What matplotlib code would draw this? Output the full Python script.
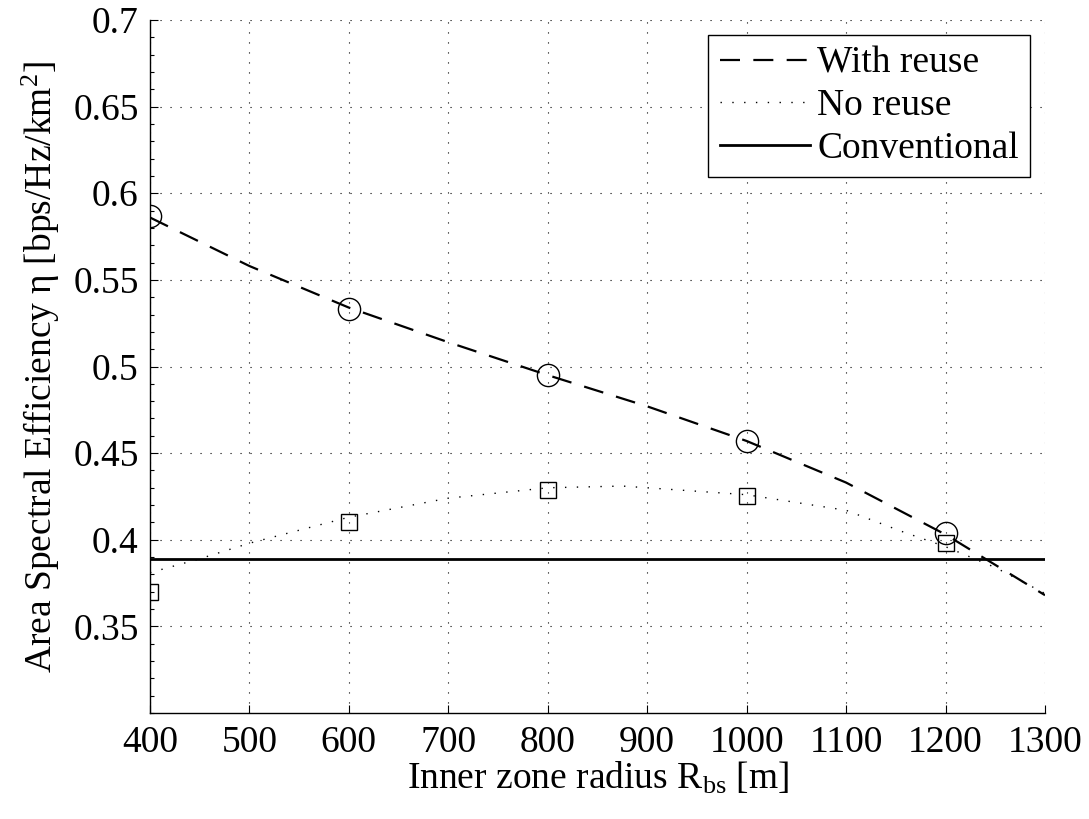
import matplotlib
matplotlib.use("Agg")
import matplotlib.pyplot as plt
from matplotlib.ticker import MultipleLocator
import numpy as np

plt.rcParams['font.family'] = ['Liberation Serif', 'DejaVu Serif']
plt.rcParams['mathtext.fontset'] = 'custom'
plt.rcParams['mathtext.rm'] = 'Liberation Serif'
plt.rcParams['mathtext.it'] = 'Liberation Serif:italic'

# simulated points
radius = [400, 600, 800, 1000, 1200]
with_reuse = [0.587, 0.533, 0.495, 0.457, 0.404]
no_reuse = [0.370, 0.4105, 0.429, 0.4255, 0.398]

# fitted curves
fit_x_reuse = [400, 500, 600, 700, 800, 900, 1000, 1100, 1200, 1300]
fit_y_reuse = [0.586, 0.558, 0.534, 0.514, 0.495, 0.477, 0.457, 0.433, 0.403, 0.368]
fit_x_noreuse = [400, 450, 500, 600, 700, 800, 875, 1000, 1100, 1155, 1200, 1250, 1300]
fit_y_noreuse = [0.381, 0.389, 0.398, 0.413, 0.424, 0.430, 0.431, 0.426, 0.417, 0.405, 0.396, 0.384, 0.369]

conventional = 0.389
xlim = [400, 1300]

fs = 27

fig = plt.figure(figsize=(10.89, 8.19), dpi=100)
ax = fig.add_axes([0.1377, 0.1294, 0.8219, 0.8462])

ax.plot(fit_x_reuse, fit_y_reuse, color='k', lw=1.6, linestyle=(0, (9, 6)), label='With reuse')
ax.plot(fit_x_noreuse, fit_y_noreuse, color='k', lw=1.0, linestyle=(0, (1, 7.5)), label='No reuse')
ax.plot(xlim, [conventional, conventional], color='k', lw=2.0, label='Conventional')
ax.plot(radius, with_reuse, 'o', ms=16, mfc='none', mec='k', mew=1.0)
ax.plot(radius, no_reuse, 's', ms=12, mfc='none', mec='k', mew=1.0)

ax.set_xlim(xlim)
ax.set_ylim(0.3, 0.7)
ax.set_xticks(np.arange(400, 1301, 100))
ax.set_yticks([0.35, 0.4, 0.45, 0.5, 0.55, 0.6, 0.65, 0.7])
ax.set_yticklabels(['0.35', '0.4', '0.45', '0.5', '0.55', '0.6', '0.65', '0.7'])
ax.yaxis.set_minor_locator(MultipleLocator(0.01))
ax.tick_params(which='both', direction='in', labelsize=fs, width=0.8)
ax.tick_params(which='major', length=6)
ax.tick_params(which='minor', length=3)
ax.tick_params(axis='x', pad=9)
ax.tick_params(axis='y', pad=8)
ax.spines['top'].set_visible(False)
ax.spines['right'].set_visible(False)
for s in ['left', 'bottom']:
    ax.spines[s].set_linewidth(1.0)
ax.grid(True, which='major', color='k', linestyle=(0, (1, 8)), linewidth=0.8)

ax.set_xlabel(r'Inner zone radius R$_{\rm bs}$ [m]', fontsize=fs, labelpad=0)
ax.set_ylabel('Area Spectral Efficiency \u03b7 [bps/Hz/km$^2$]', fontsize=fs, labelpad=8)

leg = ax.legend(loc='upper right', fontsize=fs, handlelength=2.4, handletextpad=0.2,
                labelspacing=0.22, borderaxespad=0.4, borderpad=0.3,
                fancybox=False, framealpha=1, edgecolor='k')
leg.get_frame().set_linewidth(1.0)

fig.savefig('out.png', dpi=100)
